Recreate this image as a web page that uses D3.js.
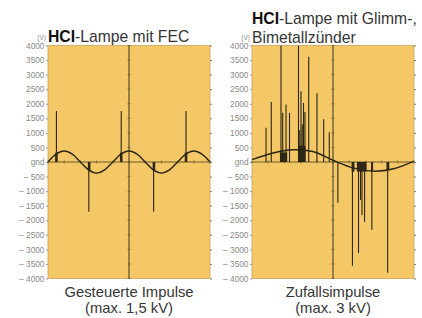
<!DOCTYPE html>
<html>
<head>
<meta charset="utf-8">
<script src="https://cdn.jsdelivr.net/npm/d3@7"></script>
<style>
  html, body { margin: 0; padding: 0; background: #fff; }
  svg { display: block; }
</style>
</head>
<body>
<div id="chart"></div>
<script>
// y axis ticks (volts)
const voltTicks = [4000, 3500, 3000, 2500, 2000, 1500, 1000, 500, 0, -500, -1000, -1500, -2000, -2500, -3000, -3500, -4000];

// left panel: HCI with FEC (time in ms)
const leftMainsTime = [0, 2.5, 5, 7.5, 10, 12.5, 15, 17.5, 20, 22.5, 25, 27.5, 30, 32.5, 35, 37.5, 40, 42.5, 45, 47.5, 50];
const leftMainsVolt = [0, 270, 380, 270, 0, -270, -380, -270, 0, 270, 380, 270, 0, -270, -380, -270, 0, 270, 380, 270, 0];
const leftPulseTime = [2.6, 12.6, 22.6, 32.6, 42.6];
const leftPulsePeak = [1750, -1710, 1750, -1710, 1750];
const leftBurstStart = [2.2, 12.3, 22.2, 32.3, 42.2];
const leftBurstEnd = [3.0, 13.1, 23.0, 33.1, 43.0];
const leftBurstLevel = [320, -300, 320, -300, 320];

// right panel: HCI with glow / bimetal starter
const rightMainsTime = [0, 2.5, 5, 7.5, 10, 12.5, 15, 17.5, 20];
const rightMainsVolt = [80, 300, 420, 360, 60, -200, -315, -230, 30];
const rightPulseTime = [1.73, 2.38, 3.58, 3.79, 4.2, 4.63, 5.74, 5.9, 6.05, 6.2, 6.36, 6.54, 7.0, 8.02, 8.85, 9.54,
  10.6, 12.4, 13.15, 13.4, 13.58, 13.9, 14.8, 16.75];
const rightPulsePeak = [1175, 2060, 4000, 1690, 1975, 1690, 4000, 1100, 2430, 1300, 2030, 1720, 3610, 2360, 1470, 1025,
  -1400, -3560, -3130, -1300, -1830, -2060, -2330, -3800];
const rightBurstStart = [3.45, 5.7, 12.3, 12.95, 14.7, 16.6];
const rightBurstEnd = [4.35, 6.6, 12.65, 14.15, 14.95, 16.95];
const rightBurstLevel = [330, 560, -330, -330, -320, -260];

const width = 422;
const height = 318;
const fontStack = '"Liberation Sans", Arial, sans-serif';
const plotFill = '#f4c867';
const inkColor = '#2b2616';
const textColor = '#363636';

const svg = d3.select('#chart')
  .append('svg')
  .attr('width', width)
  .attr('height', height)
  .attr('viewBox', `0 0 ${width} ${height}`);

const y = d3.scaleLinear().domain([-4000, 4000]).range([278.5, 45.5]);

function voltLabel(v) {
  if (v === 0) return 'gnd';
  if (v < 0) return '\u2013 ' + Math.abs(v);
  return String(v);
}

function drawPanel(cfg) {
  const x = d3.scaleLinear().domain(cfg.domain).range([cfg.left, cfg.right]);
  const g = svg.append('g');

  g.append('rect')
    .attr('x', cfg.left)
    .attr('y', y(4000))
    .attr('width', cfg.right - cfg.left)
    .attr('height', y(-4000) - y(4000))
    .attr('fill', plotFill)
    .attr('stroke', '#c9a45a')
    .attr('stroke-width', 0.8);

  // left axis with labels
  const leftAxis = g.append('g')
    .attr('transform', `translate(${cfg.left}, 0)`)
    .call(d3.axisLeft(y).tickValues(voltTicks).tickFormat(voltLabel).tickSize(2).tickPadding(1.5));
  leftAxis.select('.domain').remove();
  leftAxis.selectAll('line').attr('stroke', '#999');
  leftAxis.selectAll('text')
    .attr('fill', '#8a8a8a')
    .style('font-family', fontStack)
    .style('font-size', '8.3px');

  // right axis ticks only
  const rightAxis = g.append('g')
    .attr('transform', `translate(${cfg.right}, 0)`)
    .call(d3.axisRight(y).tickValues(voltTicks).tickFormat('').tickSize(2));
  rightAxis.select('.domain').remove();
  rightAxis.selectAll('line').attr('stroke', '#8a7a5a');

  // (V) unit
  g.append('text')
    .attr('x', cfg.left - 2)
    .attr('y', y(4000) - 6)
    .attr('text-anchor', 'end')
    .attr('fill', '#8a8a8a')
    .style('font-family', fontStack)
    .style('font-size', '6.5px')
    .text('(V)');

  // gnd line and middle line
  g.append('line')
    .attr('x1', cfg.left).attr('x2', cfg.right)
    .attr('y1', y(0)).attr('y2', y(0))
    .attr('stroke', '#6b5a2a')
    .attr('stroke-width', 1);

  const mid = (cfg.domain[0] + cfg.domain[1]) / 2;
  g.append('line')
    .attr('x1', x(mid)).attr('x2', x(mid))
    .attr('y1', y(4000)).attr('y2', y(-4000))
    .attr('stroke', '#3a3424')
    .attr('stroke-width', 1);

  // small ticks along the middle line
  g.append('g')
    .selectAll('line')
    .data(voltTicks)
    .join('line')
    .attr('x1', x(mid) - 1.5).attr('x2', x(mid) + 1.5)
    .attr('y1', (v) => y(v)).attr('y2', (v) => y(v))
    .attr('stroke', '#6b5a2a')
    .attr('stroke-width', 0.7);

  // small ticks along gnd
  g.append('g')
    .selectAll('line')
    .data(x.ticks(8))
    .join('line')
    .attr('x1', (t) => x(t)).attr('x2', (t) => x(t))
    .attr('y1', y(0) - 1.5).attr('y2', y(0) + 1.5)
    .attr('stroke', '#6b5a2a')
    .attr('stroke-width', 0.7);

  // ringing bursts at the foot of the pulses
  g.append('g')
    .selectAll('rect')
    .data(cfg.burstStart.map((s, i) => ({ s, e: cfg.burstEnd[i], v: cfg.burstLevel[i] })))
    .join('rect')
    .attr('x', (d) => x(d.s))
    .attr('width', (d) => x(d.e) - x(d.s))
    .attr('y', (d) => Math.min(y(0), y(d.v)))
    .attr('height', (d) => Math.abs(y(d.v) - y(0)))
    .attr('fill', '#1e1a10')
    .attr('fill-opacity', 0.9);

  // pulses
  g.append('g')
    .selectAll('line')
    .data(cfg.pulseTime.map((t, i) => ({ t, v: cfg.pulsePeak[i] })))
    .join('line')
    .attr('x1', (d) => x(d.t)).attr('x2', (d) => x(d.t))
    .attr('y1', y(0))
    .attr('y2', (d) => y(d.v))
    .attr('stroke', inkColor)
    .attr('stroke-width', 1.1);

  // mains sine
  const mains = cfg.mainsTime.map((t, i) => ({ t, v: cfg.mainsVolt[i] }));
  g.append('path')
    .datum(mains)
    .attr('fill', 'none')
    .attr('stroke', inkColor)
    .attr('stroke-width', 1.4)
    .attr('d', d3.line().x((d) => x(d.t)).y((d) => y(d.v)).curve(d3.curveCatmullRom));

  // title
  const title = g.append('text')
    .attr('x', cfg.left)
    .attr('y', cfg.titleY)
    .style('font-family', fontStack)
    .style('font-size', '15.7px');
  title.append('tspan').attr('font-weight', 'bold').attr('fill', '#111').text('HCI');
  title.append('tspan').attr('fill', textColor).text(cfg.title[0]);
  if (cfg.title.length > 1) {
    g.append('text')
      .attr('x', cfg.left)
      .attr('y', cfg.titleY + 19)
      .attr('fill', textColor)
      .style('font-family', fontStack)
      .style('font-size', '15.7px')
      .text(cfg.title[1]);
  }

  // caption
  cfg.caption.forEach((line, i) => {
    g.append('text')
      .attr('x', (cfg.left + cfg.right) / 2)
      .attr('y', 297 + i * 16)
      .attr('text-anchor', 'middle')
      .attr('fill', textColor)
      .style('font-family', fontStack)
      .style('font-size', '14.8px')
      .text(line);
  });
}

drawPanel({
  left: 48, right: 210, domain: [0, 50],
  mainsTime: leftMainsTime, mainsVolt: leftMainsVolt,
  pulseTime: leftPulseTime, pulsePeak: leftPulsePeak,
  burstStart: leftBurstStart, burstEnd: leftBurstEnd, burstLevel: leftBurstLevel,
  title: ['-Lampe mit FEC'], titleY: 42,
  caption: ['Gesteuerte Impulse', '(max. 1,5 kV)']
});

drawPanel({
  left: 252, right: 414, domain: [0, 20],
  mainsTime: rightMainsTime, mainsVolt: rightMainsVolt,
  pulseTime: rightPulseTime, pulsePeak: rightPulsePeak,
  burstStart: rightBurstStart, burstEnd: rightBurstEnd, burstLevel: rightBurstLevel,
  title: ['-Lampe mit Glimm-,', 'Bimetallzünder'], titleY: 24,
  caption: ['Zufallsimpulse', '(max. 3 kV)']
});
</script>
</body>
</html>
